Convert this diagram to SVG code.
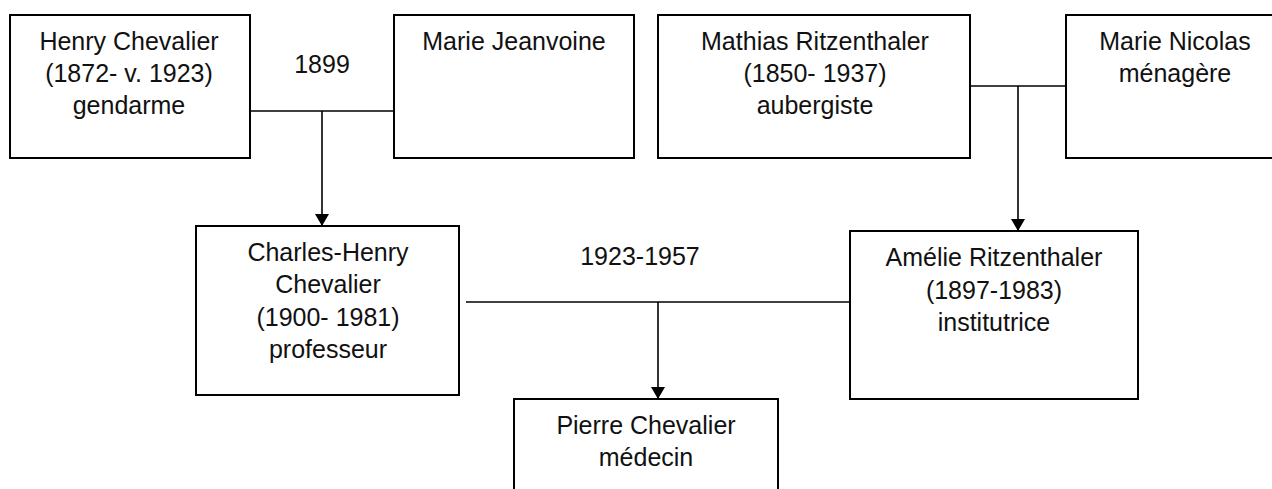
<svg xmlns="http://www.w3.org/2000/svg" width="1272" height="489" viewBox="0 0 1272 489">
<style>
.box{fill:#fff;stroke:#000;stroke-width:2}
.t{font-family:"Liberation Sans",Arial,sans-serif;font-size:25px;fill:#111;text-anchor:middle}
.c{fill:none;stroke:#000;stroke-width:1.6}
</style>
<defs>
<marker id="arr" markerUnits="userSpaceOnUse" markerWidth="12" markerHeight="14" refX="12" refY="7" orient="auto" viewBox="0 0 12 14">
<path d="M0,0 L12,7 L0,14 Z" fill="#000"/>
</marker>
</defs>
<rect width="1272" height="489" fill="#fff"/>
<g id="connectors">
<line class="c" x1="250" y1="111" x2="394" y2="111"/>
<path class="c" d="M322,111 V226" marker-end="url(#arr)"/>
<line class="c" x1="970" y1="86" x2="1066" y2="86"/>
<path class="c" d="M1018,86 V231" marker-end="url(#arr)"/>
<line class="c" x1="466" y1="302" x2="850" y2="302"/>
<path class="c" d="M658,302 V399" marker-end="url(#arr)"/>
</g>
<g id="label-1899"><text class="t" x="322" y="73">1899</text></g>
<g id="label-1923-1957"><text class="t" x="640" y="265">1923-1957</text></g>
<g id="henry">
<rect class="box" x="10" y="15" width="240" height="143"/>
<text class="t" x="129" y="50">Henry Chevalier</text>
<text class="t" x="129" y="82">(1872- v. 1923)</text>
<text class="t" x="129" y="114">gendarme</text>
</g>
<g id="marie-jeanvoine">
<rect class="box" x="394" y="15" width="240" height="143"/>
<text class="t" x="514" y="50">Marie Jeanvoine</text>
</g>
<g id="mathias">
<rect class="box" x="658" y="15" width="312" height="143"/>
<text class="t" x="815" y="50">Mathias Ritzenthaler</text>
<text class="t" x="815" y="82">(1850- 1937)</text>
<text class="t" x="815" y="114">aubergiste</text>
</g>
<g id="marie-nicolas">
<rect class="box" x="1066" y="15" width="220" height="143"/>
<text class="t" x="1175" y="50">Marie Nicolas</text>
<text class="t" x="1175" y="82">ménagère</text>
</g>
<g id="charles-henry">
<rect class="box" x="196" y="226" width="263" height="169"/>
<text class="t" x="328" y="261">Charles-Henry</text>
<text class="t" x="328" y="293">Chevalier</text>
<text class="t" x="328" y="326">(1900- 1981)</text>
<text class="t" x="328" y="358">professeur</text>
</g>
<g id="amelie">
<rect class="box" x="850" y="231" width="288" height="168"/>
<text class="t" x="994" y="266">Amélie Ritzenthaler</text>
<text class="t" x="994" y="299">(1897-1983)</text>
<text class="t" x="994" y="331">institutrice</text>
</g>
<g id="pierre">
<rect class="box" x="514" y="399" width="264" height="110"/>
<text class="t" x="646" y="434">Pierre Chevalier</text>
<text class="t" x="646" y="466">médecin</text>
</g>
</svg>
